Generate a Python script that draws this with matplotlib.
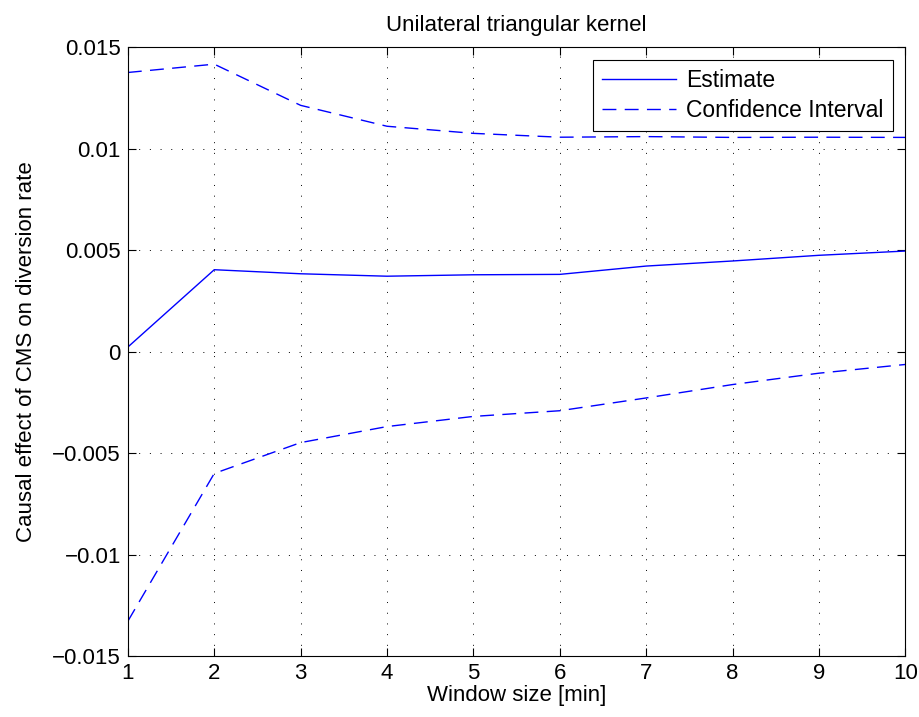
import matplotlib
matplotlib.use("Agg")
import matplotlib.pyplot as plt

plt.rcParams['font.family'] = ['Liberation Sans', 'DejaVu Sans']

# Data
window_min = [1, 2, 3, 4, 5, 6, 7, 8, 9, 10]
estimate = [0.00023, 0.00404, 0.00384, 0.00372, 0.00379, 0.00381, 0.00422, 0.00447, 0.00475, 0.00496]
ci_upper = [0.01376, 0.01417, 0.01214, 0.01111, 0.01076, 0.01057, 0.0106, 0.01056, 0.01057, 0.01056]
ci_lower = [-0.01328, -0.0060, -0.00448, -0.00369, -0.00319, -0.00291, -0.00228, -0.00162, -0.00106, -0.00063]

yticks = [-0.015, -0.01, -0.005, 0, 0.005, 0.01, 0.015]
ytick_labels = ['\u22120.015', '\u22120.01', '\u22120.005', '0', '0.005', '0.01', '0.015']

fs = 16

fig = plt.figure(figsize=(9.2, 7.17), dpi=100)
ax = fig.add_axes([0.139, 0.085, 0.845, 0.849])

ax.plot(window_min, estimate, color='blue', linewidth=1, label='Estimate')
ax.plot(window_min, ci_upper, color='blue', linewidth=1, linestyle=(0, (10, 6)),
        label='Confidence Interval')
ax.plot(window_min, ci_lower, color='blue', linewidth=1, linestyle=(0, (10, 6)))

ax.set_xlim(1, 10)
ax.set_ylim(-0.015, 0.015)
ax.set_xticks(window_min)
ax.set_yticks(yticks)
ax.set_yticklabels(ytick_labels)
ax.tick_params(direction='in', top=True, right=True, labelsize=fs, length=6, width=0.8, pad=5)
ax.grid(True, linestyle=(0, (1, 10)), color='black', linewidth=0.7)
for s in ax.spines.values():
    s.set_linewidth(0.8)

ax.set_title('Unilateral triangular kernel', fontsize=fs, pad=12)
ax.set_xlabel('Window size [min]', fontsize=fs, labelpad=1)
ax.set_ylabel('Causal effect of CMS on diversion rate', fontsize=fs, labelpad=11)

leg = ax.legend(loc='upper right', fontsize=16.5, fancybox=False, framealpha=1,
                edgecolor='black', handlelength=3.2, handletextpad=0.45,
                borderaxespad=0.55, borderpad=0.4, labelspacing=0.3)
leg.get_frame().set_linewidth(0.8)

fig.savefig('out.png', dpi=100)
